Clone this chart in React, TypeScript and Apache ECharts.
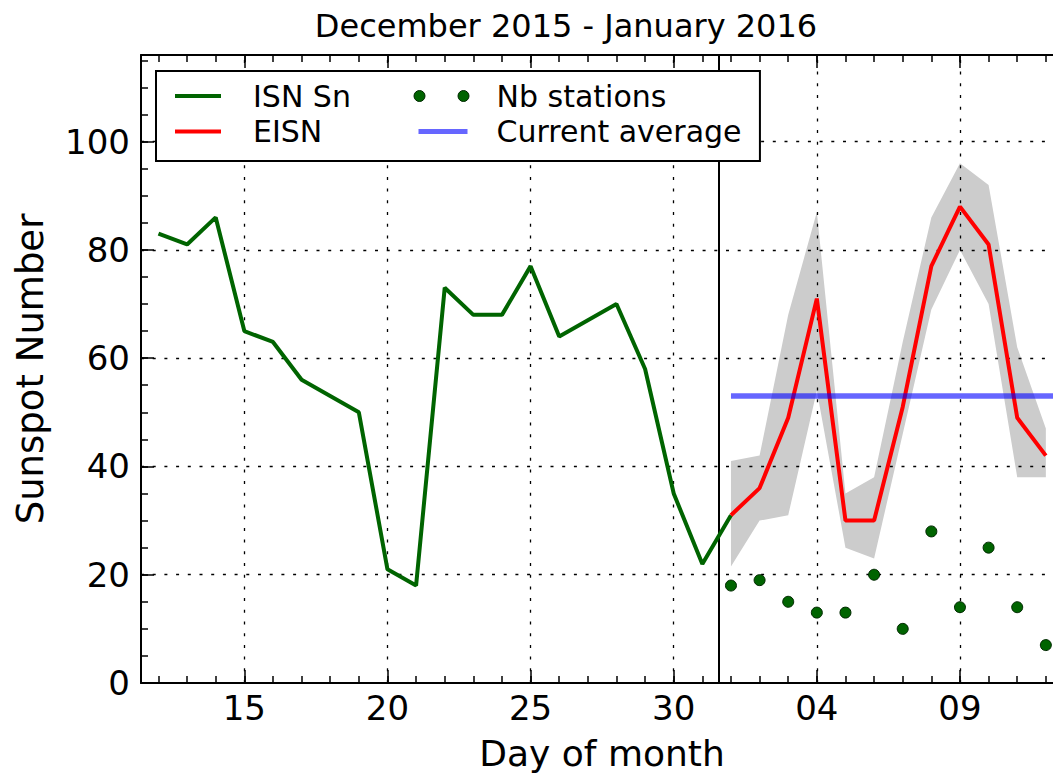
import React, { useEffect, useRef } from "react";
import * as echarts from "echarts";

// ---- data (day numbers: December d -> d, January d -> 31 + d) ----
const isnDays = [12, 13, 14, 15, 16, 17, 18, 19, 20, 21, 22, 23, 24, 25, 26, 27, 28, 29, 30, 31, 32];
const isnValues = [83, 81, 86, 65, 63, 56, 53, 50, 21, 18, 73, 68, 68, 77, 64, 67, 70, 58, 35, 22, 31];

const eisnDays = [32, 33, 34, 35, 36, 37, 38, 39, 40, 41, 42, 43];
const eisnValues = [31, 36, 49, 71, 30, 30, 51, 77, 88, 81, 49, 42];
const eisnUpper = [41, 42, 68, 87, 35, 38, 63, 86, 96, 92, 62, 47];
const eisnLower = [21.5, 30, 31, 54, 25, 23, 46, 69, 80, 70, 38, 38];

const nbStations = [18, 19, 15, 13, 13, 20, 10, 28, 14, 25, 14, 7];

const currentAverage = 53;
const averageSpan = [32, 44];
const currentDay = 31.57;

const xMajorTicks = [15, 20, 25, 30, 35, 40];
const xTickLabels = ["15", "20", "25", "30", "04", "09"];
const xMinorTicks = [12, 13, 14, 15, 16, 17, 18, 19, 20, 21, 22, 23, 24, 25, 26, 27, 28, 29, 30, 31, 32, 33, 34, 35, 36, 37, 38, 39, 40, 41, 42, 43];
const yMajorTicks = [0, 20, 40, 60, 80, 100];
const yMinorTicks = [5, 10, 15, 20, 25, 30, 35, 40, 45, 50, 55, 60, 65, 70, 75, 80, 85, 90, 95, 100, 105, 110, 115];

const X_MIN = 11.39;
const X_MAX = 43.25;
const Y_MIN = 0;
const Y_MAX = 116;

const FONT = "DejaVu Sans";
const GREEN = "#006400";
const RED = "#ff0000";
const BLUE = "rgba(0,0,255,0.6)";
const BAND = "#cccccc";

function buildOption(): any {
  const spine = { show: true, onZero: false, lineStyle: { color: "#000", width: 2 } };
  const majorTick = (vals: number[]) => ({
    show: true,
    inside: true,
    length: 13,
    customValues: vals,
    lineStyle: { color: "#000", width: 1.5 },
  });
  const minorTick = (vals: number[]) => ({
    show: true,
    inside: true,
    length: 7,
    customValues: vals,
    lineStyle: { color: "#000", width: 1.5 },
  });
  const xCommon = { type: "value", min: X_MIN, max: X_MAX, splitLine: { show: false } };
  const yCommon = { type: "value", min: Y_MIN, max: Y_MAX, splitLine: { show: false } };

  const gridLineData: any[] = [
    ...xMajorTicks.map((v) => ({ xAxis: v })),
    ...yMajorTicks.filter((v) => v > 0).map((v) => ({ yAxis: v })),
    { xAxis: currentDay, lineStyle: { type: "solid", width: 2, color: "#000" } },
  ];

  const lineIcon = "path://M0,0 M6,5 L52,5 L52,9 L6,9 Z M58,14";
  const avgIcon = "path://M0,0 M6,4.5 L55,4.5 L55,9.5 L6,9.5 Z M58,14";
  const dotsIcon =
    "path://M0,0 M12.5,7 A5.5,5.5 0 1 1 1.5,7 A5.5,5.5 0 1 1 12.5,7 Z M56.5,7 A5.5,5.5 0 1 1 45.5,7 A5.5,5.5 0 1 1 56.5,7 Z M58,14";

  const legendText = {
    fontSize: 30,
    fontFamily: FONT,
    color: "#000",
    lineHeight: 35.5,
    padding: [0, 0, 0, 21],
  };

  return {
    animation: false,
    textStyle: { fontFamily: FONT },
    title: {
      text: "December 2015 - January 2016",
      left: 561,
      top: 5,
      textAlign: "center",
      textStyle: { fontSize: 32, fontWeight: "normal", fontFamily: FONT, color: "#000", lineHeight: 32 },
    },
    legend: [
      {
        orient: "vertical",
        left: 156,
        top: 71,
        padding: [7.25, 409, 11.75, 13],
        itemGap: 0,
        itemWidth: 58,
        itemHeight: 14,
        borderColor: "#000",
        borderWidth: 2,
        borderRadius: 0,
        backgroundColor: "#fff",
        selectedMode: false,
        z: 5,
        textStyle: legendText,
        data: [
          { name: "ISN Sn", icon: lineIcon, itemStyle: { color: GREEN, borderWidth: 0 } },
          { name: "EISN", icon: lineIcon, itemStyle: { color: RED, borderWidth: 0 } },
        ],
      },
      {
        orient: "vertical",
        left: 412,
        top: 78.25,
        padding: 0,
        itemGap: 0,
        itemWidth: 58,
        itemHeight: 14,
        selectedMode: false,
        z: 6,
        textStyle: legendText,
        data: [
          { name: "Nb stations", icon: dotsIcon, itemStyle: { color: GREEN, borderColor: "#002800", borderWidth: 1, opacity: 1 } },
          { name: "Current average", icon: avgIcon, itemStyle: { color: BLUE, borderWidth: 0 } },
        ],
      },
    ],
    grid: { left: 141, top: 55, right: 0, bottom: 90, containLabel: false, outerBoundsMode: "none" },
    xAxis: [
      {
        ...xCommon,
        position: "bottom",
        name: "Day of month",
        nameLocation: "middle",
        nameGap: 52,
        nameTextStyle: { fontSize: 36, fontFamily: FONT, color: "#000", lineHeight: 36, padding: [0, 0, 0, 10] },
        axisLine: spine,
        axisTick: majorTick(xMajorTicks),
        axisLabel: {
          show: true,
          customValues: xMajorTicks,
          formatter: (v: number) => {
            const i = xMajorTicks.indexOf(v);
            return i >= 0 ? xTickLabels[i] : String(v);
          },
          fontSize: 34,
          fontFamily: FONT,
          color: "#000",
          margin: 8,
        },
      },
      {
        ...xCommon,
        position: "bottom",
        axisLine: { show: false, onZero: false },
        axisTick: minorTick(xMinorTicks),
        axisLabel: { show: false },
      },
      {
        ...xCommon,
        position: "top",
        axisLine: spine,
        axisTick: majorTick(xMajorTicks),
        axisLabel: { show: false },
      },
      {
        ...xCommon,
        position: "top",
        axisLine: { show: false, onZero: false },
        axisTick: minorTick(xMinorTicks),
        axisLabel: { show: false },
      },
    ],
    yAxis: [
      {
        ...yCommon,
        position: "left",
        name: "Sunspot Number",
        nameLocation: "middle",
        nameGap: 92,
        nameTextStyle: { fontSize: 37, fontFamily: FONT, color: "#000", lineHeight: 37 },
        axisLine: spine,
        axisTick: majorTick(yMajorTicks),
        axisLabel: {
          show: true,
          customValues: yMajorTicks,
          fontSize: 34,
          fontFamily: FONT,
          color: "#000",
          margin: 11,
        },
      },
      {
        ...yCommon,
        position: "left",
        axisLine: { show: false, onZero: false },
        axisTick: minorTick(yMinorTicks),
        axisLabel: { show: false },
      },
    ],
    series: [
      {
        type: "custom",
        name: "EISN range",
        z: 1,
        silent: true,
        clip: true,
        data: eisnDays.map((d, i) => [d, eisnLower[i], eisnUpper[i]]),
        encode: { x: 0, y: [1, 2] },
        renderItem: (params: any, api: any) => {
          if (params.dataIndex !== 0) return { type: "group", children: [] };
          const top = eisnDays.map((d, i) => api.coord([d, eisnUpper[i]]));
          const bottom = eisnDays.map((d, i) => api.coord([d, eisnLower[i]])).reverse();
          return {
            type: "polygon",
            shape: { points: top.concat(bottom) },
            style: { fill: BAND },
          };
        },
      },
      {
        type: "line",
        name: "ISN Sn",
        z: 3,
        data: isnDays.map((d, i) => [d, isnValues[i]]),
        symbol: "none",
        showSymbol: false,
        color: GREEN,
        lineStyle: { color: GREEN, width: 4 },
        markLine: {
          silent: true,
          z: 2,
          symbol: ["none", "none"],
          label: { show: false },
          emphasis: { disabled: true },
          lineStyle: { color: "#000", width: 1.3, type: [3, 8.7] },
          data: gridLineData,
        },
      },
      {
        type: "line",
        name: "EISN",
        z: 3,
        data: eisnDays.map((d, i) => [d, eisnValues[i]]),
        symbol: "none",
        showSymbol: false,
        color: RED,
        lineStyle: { color: RED, width: 4 },
      },
      {
        type: "line",
        name: "Current average",
        z: 4,
        data: averageSpan.map((d) => [d, currentAverage]),
        symbol: "none",
        showSymbol: false,
        color: BLUE,
        lineStyle: { color: BLUE, width: 5.5 },
      },
      {
        type: "scatter",
        name: "Nb stations",
        z: 4,
        data: eisnDays.map((d, i) => [d, nbStations[i]]),
        symbolSize: 11,
        color: GREEN,
        itemStyle: { color: GREEN, borderColor: "#002800", borderWidth: 1, opacity: 1 },
      },
    ],
  };
}

export default function App() {
  const ref = useRef<HTMLDivElement>(null);
  useEffect(() => {
    document.body.style.margin = "0";
    const el = ref.current;
    if (!el) return;
    const chart = echarts.init(el, null, { renderer: "svg" });
    chart.setOption(buildOption());
    return () => {
      chart.dispose();
    };
  }, []);
  return <div ref={ref} style={{ width: 1053, height: 773, background: "#fff" }} />;
}
